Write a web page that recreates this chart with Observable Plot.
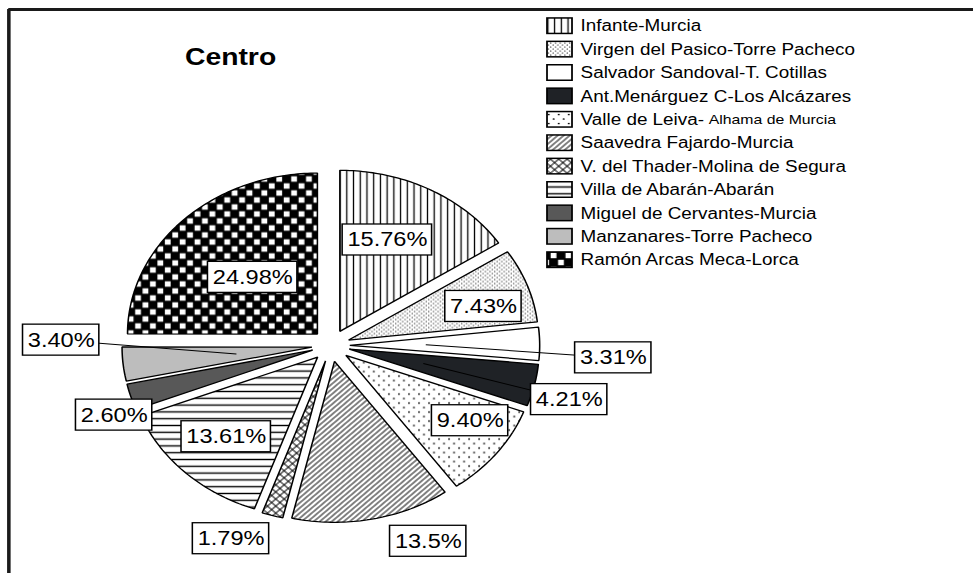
<!DOCTYPE html>
<html><head><meta charset="utf-8">
<script src="https://cdn.jsdelivr.net/npm/d3@7"></script>
<script src="https://cdn.jsdelivr.net/npm/@observablehq/plot@0.6"></script>
<style>
html,body{margin:0;padding:0;background:#fff;overflow:hidden;}
#chart{width:973px;height:573px;overflow:hidden;}
#chart svg{display:block;transform-origin:0 0;}
</style></head><body><div id="chart"></div>
<script>
// ---------- data ----------
const title = "Centro";
const schools = [
  "Infante-Murcia",
  "Virgen del Pasico-Torre Pacheco",
  "Salvador Sandoval-T. Cotillas",
  "Ant.Menárguez C-Los Alcázares",
  "Valle de Leiva-Alhama de Murcia",
  "Saavedra Fajardo-Murcia",
  "V. del Thader-Molina de Segura",
  "Villa de Abarán-Abarán",
  "Miguel de Cervantes-Murcia",
  "Manzanares-Torre Pacheco",
  "Ramón Arcas Meca-Lorca"
];
const shares = [15.76, 7.43, 3.31, 4.21, 9.40, 13.5, 1.79, 13.61, 2.60, 3.40, 24.98];
const shareLabels = ["15.76%", "7.43%", "3.31%", "4.21%", "9.40%", "13.5%", "1.79%", "13.61%", "2.60%", "3.40%", "24.98%"];

// ---------- styles / layout ----------
const fills = ["url(#p-vlines)", "url(#p-finedots)", "#ffffff", "#1f2226", "url(#p-sparsedots)",
               "url(#p-diag)", "url(#p-cross)", "url(#p-hlines)", "#585858", "#bdbdbd", "url(#p-checker)"];
const labelAngleShift = [-3.9, 3.1, 3.5, 2, -5, -11.6, 7.4, 0.2, -3.9, 7.4, 0.8]; // degrees
const labelRadius = [0.72, 0.84, 1.49, 1.30, 0.87, 1.32, 1.31, 0.79, 1.22, 1.42, 0.59];
const hasLeader = [false, false, true, true, false, false, false, false, false, true, false];
const legendSmallTail = [null, null, null, null, "Alhama de Murcia", null, null, null, null, null, null];

const PAGE_W = 973, W = 825, H = 573;
const STRETCH = PAGE_W / W;
const R = 161, CX = 280, CY = 345, EXPLODE = 0.1;
const mL = 7, mT = 9;
const FONT = "Liberation Sans, Arial, sans-serif";
const dx = px => (px - CX) / R;
const dy = py => (CY - py) / R;

const ctx = document.createElement("canvas").getContext("2d");
function tw(text, size, weight = "normal") {
  ctx.font = `${weight} ${size}px "Liberation Sans"`;
  return ctx.measureText(text).width;
}

// ---------- pie geometry from values ----------
const total = d3.sum(shares);
let acc = 0;
const slices = shares.map((v, i) => {
  const a0 = acc / total * 2 * Math.PI; acc += v;
  const a1 = acc / total * 2 * Math.PI;
  return {i, a0, a1, mid: (a0 + a1) / 2};
});
const polyPts = [];
slices.forEach(s => {
  const ox = EXPLODE * Math.sin(s.mid), oy = EXPLODE * Math.cos(s.mid);
  polyPts.push({k: s.i, x: ox, y: oy, fill: fills[s.i]});
  const n = Math.max(2, Math.ceil((s.a1 - s.a0) / (Math.PI / 180)));
  for (let j = 0; j <= n; j++) {
    const a = s.a0 + (s.a1 - s.a0) * j / n;
    polyPts.push({k: s.i, x: ox + Math.sin(a), y: oy + Math.cos(a), fill: fills[s.i]});
  }
});

const LABEL_SIZE = 20, BOX_H = 31;
const labelData = slices.map((s, i) => {
  const a = s.mid + labelAngleShift[i] * Math.PI / 180;
  const x = labelRadius[i] * Math.sin(a), y = labelRadius[i] * Math.cos(a);
  const w = (tw(shareLabels[i], LABEL_SIZE) + 8) / R, h = BOX_H / R;
  return {i, x, y, x1: x - w / 2, x2: x + w / 2, y1: y - h / 2, y2: y + h / 2, text: shareLabels[i]};
});
const leaders = slices.filter(s => hasLeader[s.i]).map(s => ({
  x1: (EXPLODE + 0.4) * Math.sin(s.mid), y1: (EXPLODE + 0.4) * Math.cos(s.mid),
  x2: labelData[s.i].x, y2: labelData[s.i].y
}));

// ---------- legend ----------
const LEG_X = 463.8, SW_W = 21.2, SW_H = 15.5, LEG_TX = 491.8, LEG_Y0 = 25.7, LEG_STEP = 23.4;
const LEG_SIZE = 16, TAIL_SIZE = 13.4;
const legendRows = schools.map((name, i) => {
  const cy = LEG_Y0 + LEG_STEP * i;
  const main = legendSmallTail[i] ? name.slice(0, name.length - legendSmallTail[i].length) : name;
  return {i, name: main, fill: fills[i],
    x1: dx(LEG_X), x2: dx(LEG_X + SW_W), y1: dy(cy + SW_H / 2), y2: dy(cy - SW_H / 2),
    tx: dx(LEG_TX), ty: dy(cy)};
});
const legendTails = legendRows.filter(r => legendSmallTail[r.i]).map(r => ({
  text: legendSmallTail[r.i],
  x: dx(LEG_TX + tw(r.name, LEG_SIZE) + 4), y: r.ty
}));

// ---------- patterns ----------
function defsMark() {
  const defs = d3.create("svg:defs");
  const pat = (id, w, h, rot) => {
    const p = defs.append("pattern").attr("id", id).attr("patternUnits", "userSpaceOnUse")
      .attr("width", w).attr("height", h);
    if (rot) p.attr("patternTransform", `rotate(${rot})`);
    p.append("rect").attr("width", w).attr("height", h).attr("fill", "#fff");
    return p;
  };
  let p = pat("p-vlines", 5.7, 10);
  p.append("line").attr("x1", 2.85).attr("x2", 2.85).attr("y1", 0).attr("y2", 10).attr("stroke", "#000").attr("stroke-width", 1.1);
  p = pat("p-finedots", 4, 4);
  p.append("circle").attr("cx", 1).attr("cy", 1).attr("r", 0.6).attr("fill", "#000");
  p.append("circle").attr("cx", 3).attr("cy", 3).attr("r", 0.6).attr("fill", "#000");
  p = pat("p-sparsedots", 8.5, 9);
  p.append("circle").attr("cx", 2).attr("cy", 2).attr("r", 0.85).attr("fill", "#000");
  p.append("circle").attr("cx", 6.25).attr("cy", 6.5).attr("r", 0.85).attr("fill", "#000");
  p = pat("p-diag", 3.6, 10, 45);
  p.append("line").attr("x1", 1.8).attr("x2", 1.8).attr("y1", 0).attr("y2", 10).attr("stroke", "#000").attr("stroke-width", 0.9);
  p = pat("p-cross", 5, 5, 45);
  p.append("line").attr("x1", 2.5).attr("x2", 2.5).attr("y1", 0).attr("y2", 5).attr("stroke", "#000").attr("stroke-width", 0.9);
  p.append("line").attr("x1", 0).attr("x2", 5).attr("y1", 2.5).attr("y2", 2.5).attr("stroke", "#000").attr("stroke-width", 0.9);
  p = pat("p-hlines", 10, 6.8);
  p.append("line").attr("x1", 0).attr("x2", 10).attr("y1", 3.4).attr("y2", 3.4).attr("stroke", "#000").attr("stroke-width", 1.4);
  p = pat("p-checker", 12.6, 14);
  p.select("rect").attr("fill", "#000");
  p.append("rect").attr("x", 0.7).attr("y", 0.8).attr("width", 4.9).attr("height", 5.4).attr("fill", "#fff");
  p.append("rect").attr("x", 7).attr("y", 7.8).attr("width", 4.9).attr("height", 5.4).attr("fill", "#fff");
  return defs.node();
}

const chart = Plot.plot({
  width: W, height: H,
  marginLeft: mL, marginTop: mT, marginRight: 0, marginBottom: 0,
  x: {domain: [dx(mL), dx(W)], axis: null},
  y: {domain: [dy(H), dy(mT)], axis: null},
  color: {type: "identity"},
  style: {background: "#fff", fontFamily: FONT, overflow: "visible"},
  marks: [
    defsMark,
    Plot.line(polyPts, {x: "x", y: "y", z: "k", fill: "fill", stroke: "#000", strokeWidth: 1.3,
      strokeLinejoin: "miter", curve: "linear-closed"}),
    Plot.link(leaders, {x1: "x1", y1: "y1", x2: "x2", y2: "y2", stroke: "#000", strokeWidth: 1}),
    Plot.rect(labelData, {x1: "x1", x2: "x2", y1: "y1", y2: "y2", fill: "#fff", stroke: "#000", strokeWidth: 1.3}),
    Plot.text(labelData, {x: "x", y: "y", text: "text", fontSize: LABEL_SIZE, fontFamily: FONT, fill: "#000"}),
    Plot.rect(legendRows, {x1: "x1", x2: "x2", y1: "y1", y2: "y2", fill: "fill", stroke: "#000", strokeWidth: 1.5}),
    Plot.text(legendRows, {x: "tx", y: "ty", text: "name", textAnchor: "start", fontSize: LEG_SIZE, fontFamily: FONT, fill: "#000"}),
    Plot.text(legendTails, {x: "x", y: "y", text: "text", textAnchor: "start", fontSize: TAIL_SIZE, fontFamily: FONT, fill: "#000"}),
    Plot.text([title], {x: dx(195), y: dy(57), text: d => d, fontSize: 24, fontWeight: "bold", fontFamily: FONT, fill: "#000"}),
    Plot.ruleY([dy(mT)], {stroke: "#1a1a1a", strokeWidth: 3}),
    Plot.ruleX([dx(mL)], {stroke: "#1a1a1a", strokeWidth: 3})
  ]
});
chart.style.transform = `scaleX(${STRETCH})`;
document.getElementById("chart").appendChild(chart);
</script>
</body></html>
